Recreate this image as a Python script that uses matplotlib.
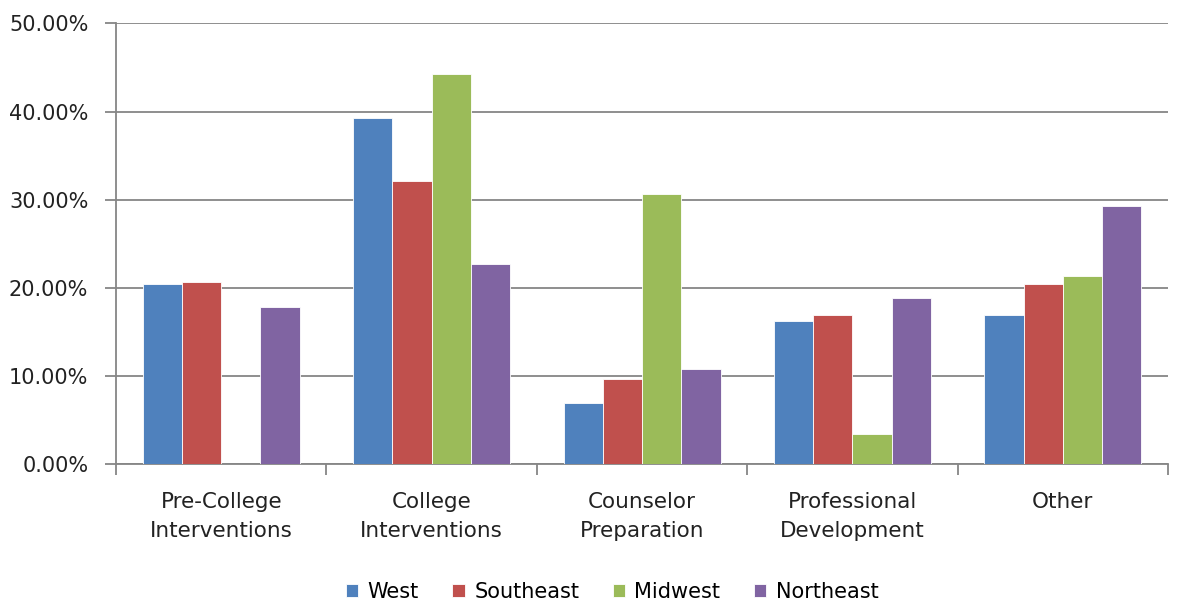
import numpy as np
import matplotlib.pyplot as plt
from matplotlib.ticker import FuncFormatter

categories = ["Pre-College\nInterventions", "College\nInterventions", "Counselor\nPreparation",
              "Professional\nDevelopment", "Other"]
regions = ["West", "Southeast", "Midwest", "Northeast"]
west = [20.4, 39.3, 6.9, 16.2, 16.9]
southeast = [20.65, 32.1, 9.7, 16.9, 20.4]
midwest = [0.0, 44.3, 30.65, 3.4, 21.3]
northeast = [17.85, 22.75, 10.8, 18.8, 29.3]
colors = ["#4F81BD", "#C0504D", "#9BBB59", "#8064A2"]

plt.rcParams["font.family"] = ["DejaVu Sans"]

fig = plt.figure(figsize=(11.84, 6.02), dpi=100)
ax = fig.add_axes([0.098, 0.229, 0.8885, 0.732])

x = np.arange(len(categories))
width = 0.1865
series = [west, southeast, midwest, northeast]
for i, (name, vals) in enumerate(zip(regions, series)):
    ax.bar(x + (i - 1.5) * width, vals, width, color=colors[i], label=name,
           edgecolor="white", linewidth=0.6, zorder=3)

ax.set_xlim(-0.5, len(categories) - 0.5)
ax.set_ylim(0, 50)
ax.set_yticks(np.arange(0, 51, 10))
ax.yaxis.set_major_formatter(FuncFormatter(lambda v, p: f"{v:.2f}%"))
ax.grid(axis="y", color="#868686", linewidth=1.3, zorder=0)

for s in ["top", "right"]:
    ax.spines[s].set_visible(False)
for s in ["left", "bottom"]:
    ax.spines[s].set_color("#868686")
    ax.spines[s].set_linewidth(1.3)

ax.set_xticks(x)
ax.set_xticklabels(categories, fontsize=15.5, linespacing=1.55, color="#222222")
ax.tick_params(axis="x", length=0, pad=20)
ax.set_xticks(np.arange(-0.5, len(categories) + 0.5, 1), minor=True)
ax.tick_params(axis="x", which="minor", length=8, color="#868686", width=1.3)
ax.tick_params(axis="y", length=8, color="#868686", width=1.3, labelsize=15,
               labelcolor="#222222", pad=12)

fig.legend(loc="center", bbox_to_anchor=(0.517, 0.017), ncol=4, frameon=False,
           fontsize=15, handlelength=0.6, handleheight=0.6, handletextpad=0.45,
           columnspacing=1.6, borderaxespad=0, borderpad=0)

fig.savefig("out.png", dpi=100)
